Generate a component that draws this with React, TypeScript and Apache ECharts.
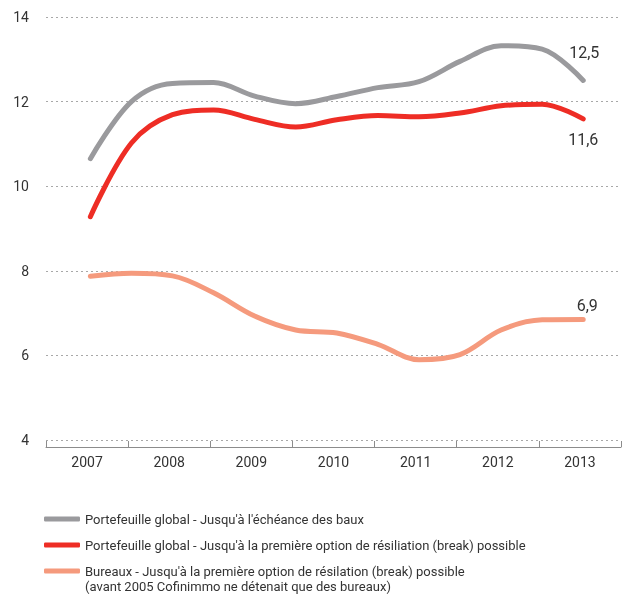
import React, { useEffect, useRef } from "react";
import * as echarts from "echarts";

const years = ["2007", "2008", "2009", "2010", "2011", "2012", "2013"];
// half-year positions (0 = 2007, 6 = 2013)
const positions = [0, 0.5, 1, 1.5, 2, 2.5, 3, 3.5, 4, 4.5, 5, 5.5, 6];
const globalLease = [10.65, 12.0, 12.43, 12.45, 12.13, 11.95, 12.12, 12.33, 12.47, 12.95, 13.32, 13.24, 12.5];
const globalBreak = [9.28, 11.02, 11.69, 11.8, 11.58, 11.4, 11.57, 11.67, 11.64, 11.73, 11.9, 11.94, 11.59];
const officesBreak = [7.87, 7.94, 7.88, 7.48, 6.93, 6.6, 6.53, 6.26, 5.9, 6.02, 6.6, 6.84, 6.85];
const endLabels = ["12,5", "11,6", "6,9"];
const seriesNames = [
  "Portefeuille global - Jusqu'à l'échéance des baux",
  "Portefeuille global - Jusqu'à la première option de résiliation (break) possible",
  "Bureaux - Jusqu'à la première option de résilation (break) possible",
];
const seriesNote = "(avant 2005 Cofinimmo ne détenait que des bureaux)";
const yTicks = { min: 4, max: 14, interval: 2 };

const FONT = "Roboto, 'Noto Sans', sans-serif";
const TEXT = "#333333";
const colors = ["#9a9a9d", "#ee2d25", "#f59a7d"];

export default function App() {
  const ref = useRef<HTMLDivElement>(null);
  useEffect(() => {
    if (!ref.current) return;
    const chart = echarts.init(ref.current, null, { renderer: "svg" });
    const values = [globalLease, globalBreak, officesBreak];
    const labelCfg = [
      { position: "top", distance: 20, offset: [1, 0] },
      { position: "bottom", distance: 13, offset: [0, 0] },
      { position: "top", distance: 6, offset: [4, 0] },
    ];
    const series = values.map((vals, si) => ({
      type: "line",
      name: seriesNames[si],
      xAxisIndex: 1,
      smooth: 0.35,
      symbol: "circle",
      symbolSize: 0,
      showSymbol: true,
      lineStyle: { width: 5, color: colors[si], cap: "round", join: "round" },
      itemStyle: { color: colors[si] },
      emphasis: { disabled: true },
      data: positions.map((p, i) =>
        i === positions.length - 1
          ? {
              value: [p, vals[i]],
              label: {
                show: true,
                formatter: endLabels[si],
                position: labelCfg[si].position,
                distance: labelCfg[si].distance,
                offset: labelCfg[si].offset,
                fontSize: 16,
                fontFamily: FONT,
                color: TEXT,
              },
            }
          : [p, vals[i]]
      ),
    }));
    chart.setOption({
      animation: false,
      color: colors,
      grid: { left: 46, right: 6, top: 17, bottom: 156, containLabel: false },
      xAxis: [
        {
          type: "category",
          data: years,
          boundaryGap: true,
          offset: 7,
          axisLine: { show: true, lineStyle: { color: "#8c8c8c", width: 1 } },
          axisTick: { show: true, inside: true, length: 6, alignWithLabel: false, lineStyle: { color: "#8c8c8c" } },
          axisLabel: { color: TEXT, fontSize: 14, fontFamily: FONT, margin: 8 },
          splitLine: { show: false },
        },
        {
          type: "value",
          min: -0.54,
          max: 6.46,
          show: false,
        },
      ],
      yAxis: {
        type: "value",
        min: yTicks.min,
        max: yTicks.max,
        interval: yTicks.interval,
        axisLine: { show: false },
        axisTick: { show: false },
        axisLabel: { color: TEXT, fontSize: 14, fontFamily: FONT, margin: 17 },
        splitLine: { show: true, lineStyle: { color: "#a8a8a8", width: 1, type: [2, 3] } },
      },
      legend: {
        orient: "vertical",
        left: 44,
        top: 511.5,
        padding: 0,
        itemGap: 11,
        itemWidth: 36,
        itemHeight: 5,
        icon: "roundRect",
        selectedMode: false,
        data: seriesNames,
        textStyle: { color: TEXT, fontSize: 13, fontFamily: FONT, lineHeight: 15 },
      },
      graphic: [
        {
          type: "text",
          left: 85,
          top: 578.5,
          style: { text: seriesNote, fill: TEXT, fontSize: 13, fontFamily: FONT, lineHeight: 15 },
        },
      ],
      series,
    });
    return () => chart.dispose();
  }, []);
  return (
    <div
      ref={ref}
      style={{ position: "fixed", left: 0, top: 0, width: 627, height: 596 }}
    />
  );
}
